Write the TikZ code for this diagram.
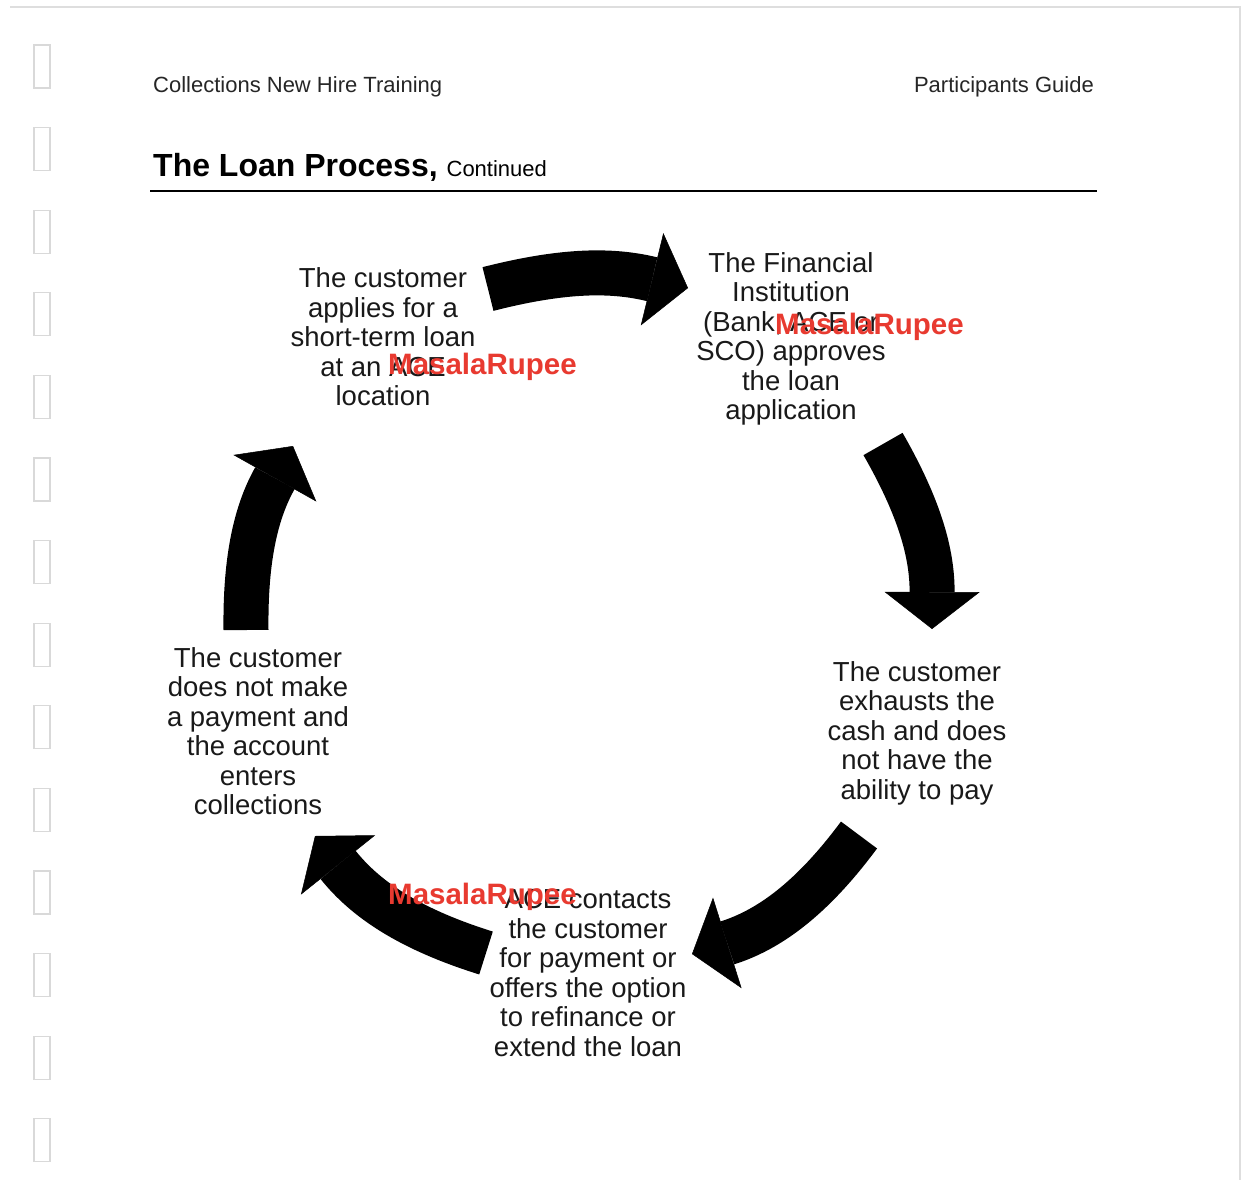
\documentclass[tikz,border=0pt]{standalone}
\usepackage{fontspec}
\setmainfont{Liberation Sans}
\usetikzlibrary{arrows.meta}

\definecolor{stamp}{RGB}{232,58,48}
\definecolor{scan}{RGB}{222,222,222}

\begin{document}
\begin{tikzpicture}[x=1pt, y=-1pt,
  stagetext/.style={align=center, inner sep=0pt, text=black!90,
    font=\fontsize{27.5}{29.5}\selectfont},
  cyclearrow/.style={line width=45pt,
    -{Triangle[length=37pt, width=95pt, line width=0.5pt]}},
  watermark/.style={anchor=base west, inner sep=0pt, text=stamp,
    font=\fontsize{29.5}{30}\selectfont\bfseries},
  headtext/.style={inner sep=0pt, text=black!85, font=\fontsize{22}{24}\selectfont}]
  \useasboundingbox (0,0) rectangle (1260,1180);

  % Page edge of the scan
  \draw[scan, line width=1.5pt] (10,7) -- (1240,7) -- (1240,1180);

  % Binder holes
  \foreach \i in {0,...,13}
  {
    \draw[black!15, line width=1.2pt] (34,45+82.6*\i) rectangle (50,88+82.6*\i);
  }

  % Page header
  \node[headtext, anchor=base west] (hdl) at (153,93) {Collections New Hire Training};
  \node[headtext, anchor=base east] (hdr) at (1094,93) {Participants Guide};
  \node[inner sep=0pt, anchor=base west] (title) at (153,176)
    {\fontsize{32}{34}\selectfont\bfseries The Loan Process,
     \fontsize{22}{24}\selectfont\mdseries Continued};
  \draw[line width=2.6pt] (150,191) -- (1097,191);

  % Stages of the loan cycle
  \node[stagetext] (apply) at (383,337)
    {The customer\\applies for a\\short-term loan\\at an ACE\\location};
  \node[stagetext] (approve) at (791,339)
    {The Financial\\Institution\\(Bank, ACE or\\SCO) approves\\the loan\\application};
  \node[stagetext] (exhaust) at (917,733)
    {The customer\\exhausts the\\cash and does\\not have the\\ability to pay};
  \node[stagetext] (contact) at (588,973)
    {ACE contacts\\the customer\\for payment or\\offers the option\\to refinance or\\extend the loan};
  \node[stagetext] (collect) at (258,731)
    {The customer\\does not make\\a payment and\\the account\\enters\\collections};

  % Arrow ends
  \coordinate (a1s) at (488,289);  \coordinate (a1e) at (688,288);
  \coordinate (a2s) at (883,444);  \coordinate (a2e) at (932,629);
  \coordinate (a3s) at (859,835);  \coordinate (a3e) at (692,954);
  \coordinate (a4s) at (486,953);  \coordinate (a4e) at (315,836);
  \coordinate (a5s) at (246,630);  \coordinate (a5e) at (293,446);

  % Cycle arrows
  \draw[cyclearrow] (a1s) to[bend left=14] (a1e);
  \draw[cyclearrow] (a2s) to[bend left=15] (a2e);
  \draw[cyclearrow] (a3s) to[bend left=18] (a3e);
  \draw[cyclearrow] (a4s) to[bend left=17] (a4e);
  \draw[cyclearrow] (a5s) to[bend left=15] (a5e);

  % Stamped watermarks
  \node[watermark] (wm1) at (388,374) {MasalaRupee};
  \node[watermark] (wm2) at (775,334) {MasalaRupee};
  \node[watermark] (wm3) at (388,904) {MasalaRupee};
\end{tikzpicture}
\end{document}
